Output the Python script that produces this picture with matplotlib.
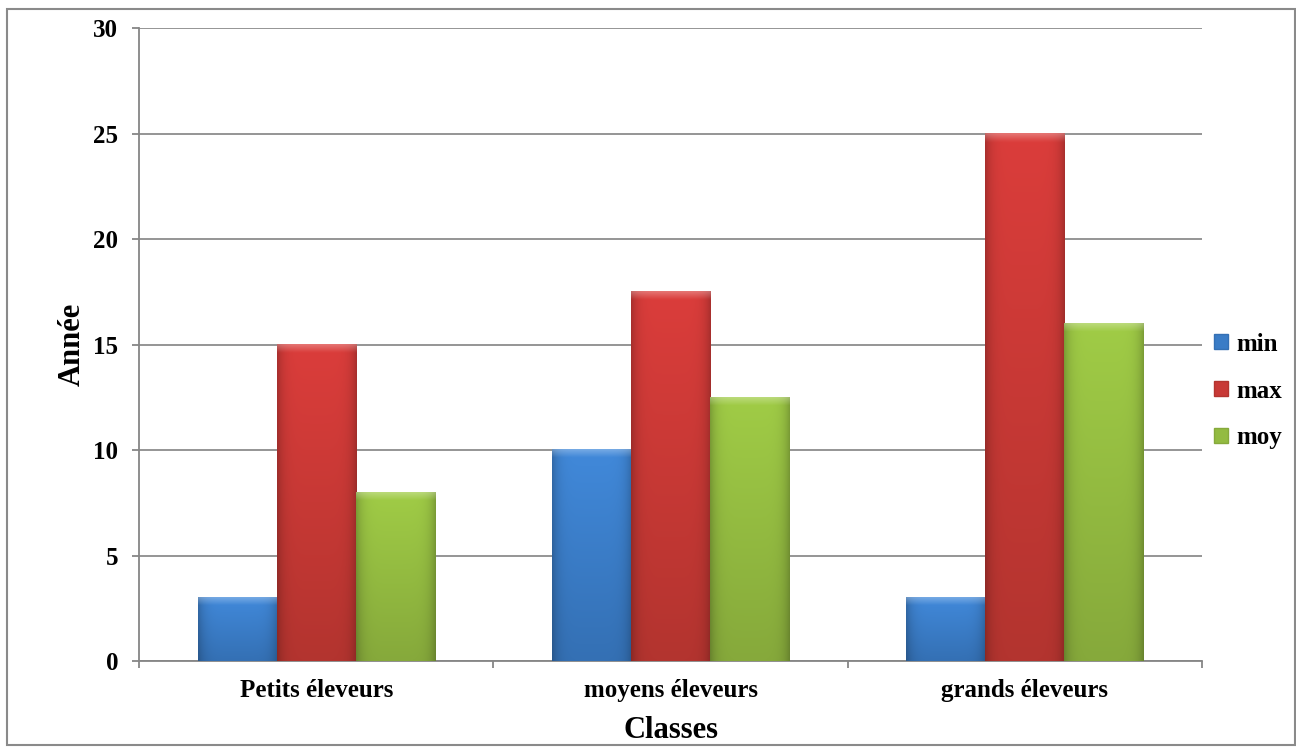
import numpy as np
import matplotlib
matplotlib.use("Agg")
import matplotlib.pyplot as plt
from matplotlib.colors import to_rgb
from matplotlib.patches import Rectangle

# données
classes = ["Petits éleveurs", "moyens éleveurs", "grands éleveurs"]
series = ["min", "max", "moy"]
val_min = [3, 10, 3]
val_max = [15, 17.5, 25]
val_moy = [8, 12.5, 16]
y_ticks = [0, 5, 10, 15, 20, 25, 30]

# couleurs haut / bas du dégradé de chaque série
top_colors = ["#4189da", "#db3d3b", "#a0cc46"]
bottom_colors = ["#3470b4", "#b3342f", "#86a93b"]
mid_colors = ["#3a7cc6", "#c83936", "#93bb41"]

plt.rcParams["font.family"] = ["Liberation Serif", "DejaVu Serif"]
plt.rcParams["font.weight"] = "bold"


def shade_bar(ax, patch, top, bottom, px_per_unit):
    """remplit une barre avec un dégradé façon Excel (biseau en haut, bords sombres)"""
    x, y = patch.get_x(), patch.get_y()
    w, h = patch.get_width(), patch.get_height()
    ny, nx = 300, 80
    t = np.linspace(0, 1, ny)[:, None]
    u = np.linspace(0, 1, nx)[None, :]
    top = np.array(to_rgb(top))
    bottom = np.array(to_rgb(bottom))
    c = (1 - t)[..., None] * top + t[..., None] * bottom
    c = np.broadcast_to(c, (ny, nx, 3)).copy()
    # bords gauche/droite plus sombres
    edge = 1 - 0.22 * np.abs(2 * u - 1) ** 6
    c = c * edge[..., None]
    # biseau clair en haut (~8 px)
    h_px = h * px_per_unit
    bevel = np.clip(1 - t * h_px / 8.0, 0, 1)
    c = c + (1 - c) * 0.28 * bevel[..., None]
    ax.imshow(np.clip(c, 0, 1), extent=(x, x + w, y, y + h), aspect="auto",
              zorder=3, interpolation="bilinear")
    patch.set_visible(False)


fig = plt.figure(figsize=(12.96, 7.51), dpi=100)
ax = fig.add_axes([0.1073, 0.1198, 0.8202, 0.8429])

x = np.arange(len(classes))
width = 0.223
values = [val_min, val_max, val_moy]
bars = []
for i, vals in enumerate(values):
    b = ax.bar(x + (i - 1) * width, vals, width, color=mid_colors[i],
               label=series[i], zorder=3)
    bars.append(b)

ax.set_xlim(-0.5, len(classes) - 0.5)
ax.set_ylim(0, 30)
px_per_unit = ax.bbox.height / 30.0
for i, b in enumerate(bars):
    for p in b.patches:
        shade_bar(ax, p, top_colors[i], bottom_colors[i], px_per_unit)
ax.set_xlim(-0.5, len(classes) - 0.5)
ax.set_ylim(0, 30)

# grille et axes
ax.set_axisbelow(True)
ax.yaxis.grid(True, color="#8c8c8c", lw=1.3, zorder=0)
for s in ["top", "right"]:
    ax.spines[s].set_visible(False)
for s in ["left", "bottom"]:
    ax.spines[s].set_color("#868686")
    ax.spines[s].set_linewidth(1.3)

ax.set_yticks(y_ticks)
ax.tick_params(axis="y", length=5, width=1.3, color="#868686",
               labelsize=18, pad=10)
ax.set_xticks(x)
ax.set_xticklabels(classes)
ax.set_xticks(np.arange(len(classes) + 1) - 0.5, minor=True)
ax.tick_params(axis="x", which="major", length=0, labelsize=18, pad=13)
ax.tick_params(axis="x", which="minor", length=5, width=1.3, color="#868686")

ax.set_xlabel("Classes", fontsize=22, fontweight="bold", labelpad=10)
ax.set_ylabel("Année", fontsize=22, fontweight="bold", labelpad=5)

# légende à droite
handles = [Rectangle((0, 0), 1, 1, facecolor=mid_colors[i],
                     edgecolor=bottom_colors[i], lw=1) for i in range(3)]
fig.legend(handles, series, loc="center left",
           bbox_to_anchor=(1214 / 1296, 1 - 391 / 751), frameon=False,
           fontsize=18, handlelength=0.55, handleheight=0.55,
           handletextpad=0.35, labelspacing=0.95, borderpad=0,
           borderaxespad=0)

# cadre extérieur
fig.patches.append(Rectangle((7 / 1296, 6 / 751), 1288 / 1296, 736 / 751,
                             transform=fig.transFigure, fill=False,
                             edgecolor="#8a8a8a", lw=1.5))

fig.savefig("out.png", dpi=100)
